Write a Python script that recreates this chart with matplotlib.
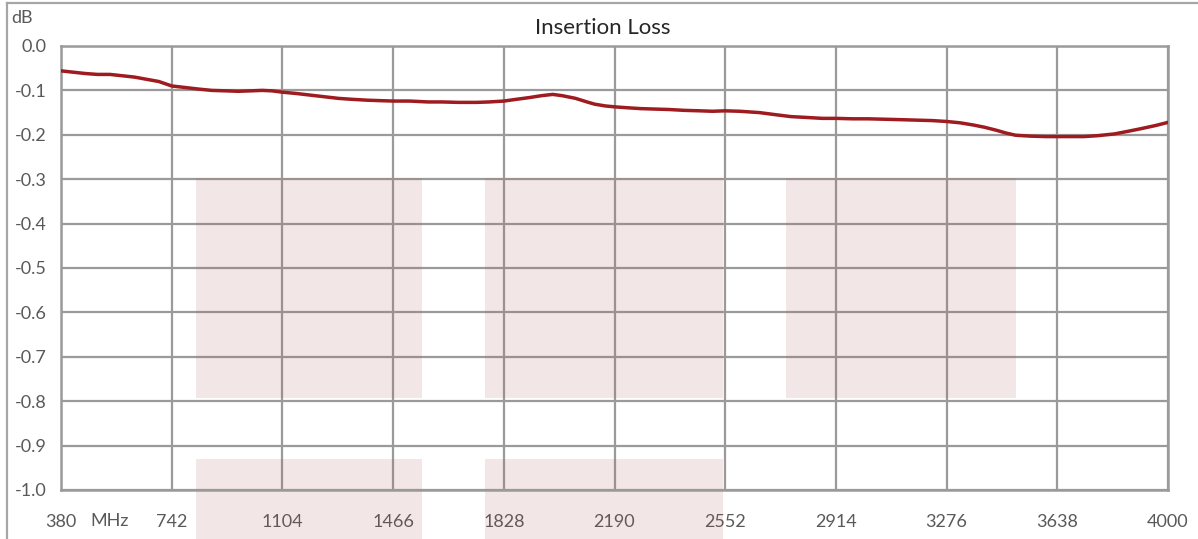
import matplotlib
matplotlib.use("Agg")
import matplotlib.pyplot as plt
from matplotlib.patches import Rectangle
from matplotlib.lines import Line2D

plt.rcParams['font.family'] = ['Lato', 'DejaVu Sans']

# ---- data ----
freq_mhz = [380, 420, 460, 499, 540, 580, 620, 660, 700, 742, 780, 830, 873, 920,
            960, 1000, 1038, 1070, 1104, 1150, 1200, 1250, 1288, 1330, 1380, 1420,
            1466, 1520, 1580, 1626, 1680, 1738, 1780, 1828, 1870, 1913, 1950, 1988,
            2020, 2063, 2100, 2125, 2160, 2190, 2230, 2275, 2320, 2367, 2420, 2470,
            2510, 2552, 2600, 2664, 2720, 2767, 2820, 2870, 2914, 2970, 3020, 3076,
            3130, 3180, 3230, 3276, 3320, 3364, 3400, 3440, 3470, 3502, 3550, 3600,
            3638, 3680, 3725, 3770, 3825, 3870, 3913, 3960, 4000]
loss_db = [-0.056, -0.059, -0.062, -0.064, -0.064, -0.067, -0.070, -0.075, -0.080,
           -0.090, -0.093, -0.097, -0.100, -0.101, -0.102, -0.101, -0.100, -0.101,
           -0.104, -0.107, -0.111, -0.115, -0.118, -0.120, -0.122, -0.123, -0.124,
           -0.124, -0.126, -0.126, -0.127, -0.127, -0.126, -0.124, -0.120, -0.116,
           -0.112, -0.109, -0.112, -0.118, -0.126, -0.131, -0.135, -0.137, -0.139,
           -0.141, -0.142, -0.143, -0.145, -0.146, -0.147, -0.146, -0.147, -0.150,
           -0.155, -0.159, -0.161, -0.163, -0.163, -0.164, -0.164, -0.165, -0.166,
           -0.167, -0.168, -0.170, -0.173, -0.178, -0.183, -0.190, -0.196, -0.201,
           -0.203, -0.204, -0.204, -0.204, -0.204, -0.202, -0.198, -0.192, -0.186,
           -0.179, -0.172]

x_ticks = [380, 742, 1104, 1466, 1828, 2190, 2552, 2914, 3276, 3638, 4000]
y_ticks = [0.0, -0.1, -0.2, -0.3, -0.4, -0.5, -0.6, -0.7, -0.8, -0.9, -1.0]

# shaded bands (x start, x end)
upper_bands = [(821, 1560), (1766, 2545), (2751, 3503)]
upper_band_y = (-0.793, -0.297)
lower_bands = [(821, 1560), (1766, 2545)]
lower_band_y = (-1.25, -0.93)

# ---- figure ----
W, H = 1198, 539
fig = plt.figure(figsize=(W / 100, H / 100), dpi=100)
ax = fig.add_axes([61 / W, 1 - 490 / H, (1168 - 61) / W, (490 - 46) / H])

grid_col = '#9a9a9a'
txt_col = '#595959'

ax.set_xlim(380, 4000)
ax.set_ylim(-1.0, 0.0)
ax.set_xticks(x_ticks)
ax.set_yticks(y_ticks)
ax.set_xticklabels([str(v) for v in x_ticks])
ax.set_yticklabels([f"{v:.1f}" if v != 0 else "0.0" for v in y_ticks])
ax.tick_params(length=0, labelsize=13, labelcolor=txt_col)
ax.tick_params(axis='x', pad=17)
ax.tick_params(axis='y', pad=10.5)
ax.grid(True, color=grid_col, linewidth=1.6)
ax.set_axisbelow(True)
for s in ax.spines.values():
    s.set_color(grid_col)
    s.set_linewidth(1.8)

for x0, x1 in upper_bands:
    ax.add_patch(Rectangle((x0, upper_band_y[0]), x1 - x0, upper_band_y[1] - upper_band_y[0],
                           facecolor='#a85858', alpha=0.15, edgecolor='none', zorder=1.5))
for x0, x1 in lower_bands:
    ax.add_patch(Rectangle((x0, lower_band_y[0]), x1 - x0, lower_band_y[1] - lower_band_y[0],
                           facecolor='#a85858', alpha=0.15, edgecolor='none', zorder=1.5,
                           clip_on=False))

ax.plot(freq_mhz, loss_db, color='#9e1b20', linewidth=2.5, zorder=3,
        solid_capstyle='round')

fig.text(603 / W, 1 - 28 / H, 'Insertion Loss', ha='center', va='center',
         fontsize=16, color='#262626')
fig.text(22 / W, 1 - 18 / H, 'dB', ha='center', va='center', fontsize=13, color=txt_col)
fig.text(110 / W, 1 - 521 / H, 'MHz', ha='center', va='center', fontsize=13, color=txt_col)

# outer border
border_col = '#a6a6a6'
fig.add_artist(Line2D([7 / W, 7 / W], [0, 1 - 3 / H], transform=fig.transFigure,
                      color=border_col, linewidth=1.6))
fig.add_artist(Line2D([7 / W, 1], [1 - 3 / H, 1 - 3 / H], transform=fig.transFigure,
                      color=border_col, linewidth=1.6))

fig.savefig('out.png', dpi=100)
